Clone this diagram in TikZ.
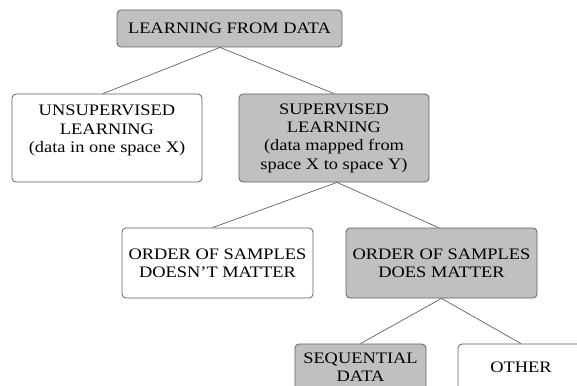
\documentclass[tikz,border=0pt]{standalone}
\usepackage{fontspec}
\setmainfont{Liberation Serif}[FakeStretch=1.15]
\usepackage{tikz}
\definecolor{boxgray}{RGB}{192,192,192}
\definecolor{edgegray}{RGB}{96,96,96}

\begin{document}
\begin{tikzpicture}[x=1pt, y=-1pt,
    box/.style={rectangle, draw=edgegray, line width=0.8pt, rounded corners=4pt, fill=white, align=center, font=\fontsize{16}{18.3}\selectfont, inner sep=0pt},
    hl/.style={box, fill=boxgray},
    link/.style={draw=edgegray, line width=0.7pt}]
  \clip (0,0) rectangle (577,385);
  \node[hl, minimum width=225pt, minimum height=37pt] (data) at (229.5,28.5) {LEARNING FROM DATA};
  \node[box, minimum width=190pt, minimum height=88pt] (unsup) at (107,138) {UNSUPERVISED\\LEARNING\\(data in one space X)\\ \mbox{}};
  \node[hl, minimum width=190pt, minimum height=88pt] (sup) at (334,138) {SUPERVISED\\LEARNING\\(data mapped from\\space X to space Y)};
  \node[box, minimum width=191pt, minimum height=70pt] (nomatter) at (217.5,263) {ORDER OF SAMPLES\\DOESN'T MATTER};
  \node[hl, minimum width=191pt, minimum height=70pt] (matter) at (441.5,263) {ORDER OF SAMPLES\\DOES MATTER};
  \node[hl, minimum width=131pt, minimum height=47pt] (seq) at (360.5,367.5) {SEQUENTIAL\\DATA};
  \node[box, minimum width=126pt, minimum height=47pt] (other) at (521,367.5) {OTHER};
  % tree edges
  \draw[link] ([xshift=-9.5pt]data.south) -- ([xshift=-4pt]unsup.north);
  \draw[link] ([xshift=-9.5pt]data.south) -- (sup.north);
  \draw[link] ([xshift=3pt]sup.south) -- ([xshift=-5pt]nomatter.north);
  \draw[link] ([xshift=3pt]sup.south) -- ([xshift=-3pt]matter.north);
  \draw[link] (matter.south) -- (seq.north);
  \draw[link] (matter.south) -- (other.north);
\end{tikzpicture}
\end{document}
